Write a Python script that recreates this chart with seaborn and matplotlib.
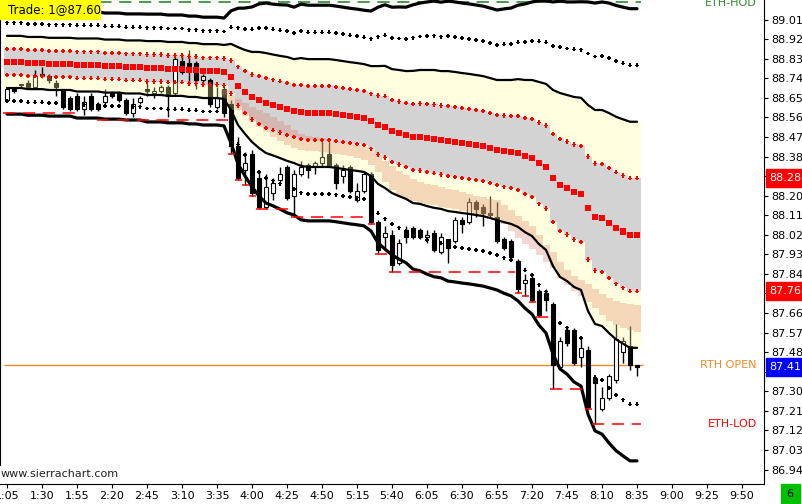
import matplotlib
matplotlib.use("Agg")
import matplotlib.pyplot as plt
import matplotlib.transforms as mtransforms
from matplotlib.patches import Rectangle
import numpy as np
import pandas as pd
import seaborn as sns

# ---- data (5 minute bars, 1:05 -> 8:35) ----
time_labels = ["1:05", "1:30", "1:55", "2:20", "2:45", "3:10", "3:35", "4:00",
               "4:25", "4:50", "5:15", "5:40", "6:05", "6:30", "6:55", "7:20",
               "7:45", "8:10", "8:35", "9:00", "9:25", "9:50"]

opens = [88.64, 88.69, 88.71, 88.72, 88.70, 88.76, 88.75, 88.72, 88.69, 88.65,
         88.66, 88.60, 88.66, 88.62, 88.63, 88.67, 88.67, 88.64, 88.58, 88.63,
         88.69, 88.67, 88.68, 88.70, 88.67, 88.82, 88.81, 88.81, 88.73, 88.73,
         88.61, 88.69, 88.62, 88.43, 88.32, 88.39, 88.28, 88.15, 88.21, 88.27,
         88.33, 88.20, 88.30, 88.34, 88.33, 88.35, 88.39, 88.34, 88.29, 88.33,
         88.18, 88.22, 88.30, 88.08, 88.01, 88.02, 87.89, 88.04, 88.05, 88.04,
         88.01, 88.03, 87.94, 88.00, 87.99, 88.09, 88.08, 88.17, 88.15, 88.12,
         88.10, 88.00, 87.99, 87.90, 87.80, 87.82, 87.76, 87.75, 87.70, 87.41,
         87.58, 87.58, 87.46, 87.49, 87.36, 87.22, 87.27, 87.35, 87.48, 87.51,
         87.42]
highs = [88.70, 88.69, 88.71, 88.73, 88.78, 88.79, 88.76, 88.73, 88.69, 88.66,
         88.67, 88.66, 88.67, 88.63, 88.69, 88.68, 88.68, 88.65, 88.65, 88.66,
         88.72, 88.70, 88.71, 88.71, 88.84, 88.85, 88.87, 88.82, 88.76, 88.74,
         88.70, 88.70, 88.64, 88.47, 88.40, 88.41, 88.31, 88.30, 88.28, 88.33,
         88.34, 88.32, 88.36, 88.35, 88.36, 88.45, 88.45, 88.35, 88.34, 88.34,
         88.26, 88.31, 88.31, 88.09, 88.06, 88.04, 88.00, 88.06, 88.06, 88.05,
         88.04, 88.04, 88.03, 88.00, 88.10, 88.10, 88.19, 88.18, 88.16, 88.20,
         88.17, 88.01, 88.00, 87.91, 87.84, 87.83, 87.77, 87.77, 87.71, 87.55,
         87.60, 87.59, 87.55, 87.51, 87.37, 87.32, 87.38, 87.61, 87.55, 87.60,
         87.42]
lows = [88.64, 88.67, 88.70, 88.69, 88.69, 88.74, 88.72, 88.66, 88.60, 88.59,
        88.59, 88.57, 88.59, 88.59, 88.62, 88.65, 88.63, 88.57, 88.56, 88.62,
        88.66, 88.65, 88.67, 88.56, 88.66, 88.76, 88.71, 88.69, 88.71, 88.61,
        88.60, 88.56, 88.39, 88.27, 88.25, 88.20, 88.14, 88.14, 88.18, 88.26,
        88.18, 88.10, 88.29, 88.28, 88.30, 88.33, 88.33, 88.23, 88.26, 88.21,
        88.17, 88.21, 88.07, 87.93, 87.96, 87.85, 87.88, 87.98, 88.00, 88.00,
        87.98, 87.94, 87.93, 87.89, 87.98, 88.03, 88.07, 88.10, 88.06, 88.10,
        87.98, 87.95, 87.91, 87.75, 87.74, 87.71, 87.64, 87.67, 87.31, 87.40,
        87.51, 87.42, 87.41, 87.22, 87.15, 87.21, 87.26, 87.34, 87.43, 87.40,
        87.37]
closes = [88.69, 88.68, 88.71, 88.70, 88.75, 88.75, 88.73, 88.70, 88.61, 88.60,
          88.60, 88.63, 88.60, 88.60, 88.66, 88.66, 88.64, 88.58, 88.62, 88.65,
          88.68, 88.68, 88.70, 88.66, 88.83, 88.77, 88.77, 88.73, 88.75, 88.62,
          88.65, 88.58, 88.43, 88.28, 88.35, 88.21, 88.15, 88.24, 88.26, 88.30,
          88.19, 88.30, 88.33, 88.32, 88.35, 88.38, 88.34, 88.26, 88.32, 88.22,
          88.22, 88.30, 88.08, 87.95, 88.03, 87.88, 87.98, 88.01, 88.01, 88.01,
          88.02, 87.95, 88.01, 87.96, 88.09, 88.07, 88.17, 88.14, 88.12, 88.11,
          87.99, 87.96, 87.92, 87.77, 87.81, 87.72, 87.65, 87.72, 87.42, 87.53,
          87.52, 87.43, 87.50, 87.23, 87.34, 87.27, 87.37, 87.54, 87.53, 87.42,
          87.41]

# session VWAP (red squares) and its standard deviation
vwap = [88.815, 88.815, 88.815, 88.810, 88.810, 88.810, 88.806, 88.806, 88.806, 88.806,
        88.801, 88.801, 88.801, 88.801, 88.796, 88.796, 88.796, 88.792, 88.792, 88.792,
        88.787, 88.787, 88.787, 88.783, 88.783, 88.783, 88.778, 88.778, 88.773, 88.773,
        88.773, 88.769, 88.746, 88.704, 88.677, 88.654, 88.640, 88.626, 88.617, 88.608,
        88.599, 88.589, 88.585, 88.580, 88.580, 88.580, 88.580, 88.576, 88.571, 88.566,
        88.562, 88.557, 88.543, 88.525, 88.516, 88.497, 88.488, 88.479, 88.470, 88.470,
        88.465, 88.461, 88.456, 88.451, 88.447, 88.442, 88.438, 88.433, 88.428, 88.419,
        88.410, 88.405, 88.401, 88.396, 88.382, 88.373, 88.350, 88.332, 88.281, 88.249,
        88.235, 88.217, 88.208, 88.143, 88.102, 88.097, 88.074, 88.051, 88.035, 88.020,
        88.020]
sigma = [0.120, 0.120, 0.120, 0.120, 0.120, 0.120, 0.120, 0.120, 0.120, 0.120,
         0.122, 0.122, 0.122, 0.122, 0.122, 0.122, 0.122, 0.122, 0.122, 0.122,
         0.124, 0.124, 0.124, 0.124, 0.124, 0.124, 0.124, 0.124, 0.124, 0.124,
         0.124, 0.124, 0.152, 0.179, 0.193, 0.207, 0.221, 0.230, 0.232, 0.235,
         0.239, 0.239, 0.248, 0.248, 0.248, 0.248, 0.248, 0.248, 0.248, 0.248,
         0.248, 0.248, 0.253, 0.271, 0.281, 0.285, 0.290, 0.294, 0.304, 0.308,
         0.313, 0.317, 0.317, 0.322, 0.322, 0.322, 0.322, 0.322, 0.322, 0.322,
         0.322, 0.327, 0.331, 0.340, 0.350, 0.359, 0.373, 0.382, 0.405, 0.423,
         0.428, 0.437, 0.442, 0.474, 0.492, 0.497, 0.506, 0.512, 0.516, 0.520,
         0.520]

# second band (peach), starts at bar 31
peach_start = 31
peach_top = [88.686, 88.663, 88.645, 88.626, 88.608, 88.594, 88.580, 88.562, 88.543, 88.525,
             88.502, 88.484, 88.474, 88.470, 88.465, 88.456, 88.451, 88.447, 88.442, 88.433,
             88.424, 88.410, 88.387, 88.359, 88.336, 88.313, 88.295, 88.277, 88.263, 88.254,
             88.249, 88.240, 88.231, 88.226, 88.217, 88.208, 88.198, 88.194, 88.185, 88.180,
             88.157, 88.134, 88.106, 88.083, 88.060, 88.019, 87.973, 87.941, 87.895, 87.858,
             87.830, 87.812, 87.794, 87.771, 87.748, 87.729, 87.715, 87.706, 87.702, 87.697]
peach_bot = [88.663, 88.622, 88.594, 88.566, 88.539, 88.516, 88.493, 88.470, 88.451, 88.433,
             88.419, 88.410, 88.405, 88.405, 88.401, 88.396, 88.392, 88.387, 88.382, 88.373,
             88.364, 88.341, 88.309, 88.263, 88.226, 88.198, 88.185, 88.175, 88.166, 88.162,
             88.157, 88.148, 88.143, 88.139, 88.129, 88.125, 88.116, 88.111, 88.106, 88.097,
             88.070, 88.037, 88.005, 87.978, 87.955, 87.927, 87.895, 87.867, 87.821, 87.789,
             87.761, 87.738, 87.711, 87.683, 87.651, 87.623, 87.605, 87.591, 87.582, 87.573]

# red lines at bar lows: (first bar, last bar, price)
low_levels = [(-0.6, 10.4, 88.58), (12.9, 31.5, 88.55), (31.5, 32.5, 88.39),
              (32.5, 33.5, 88.27), (33.5, 34.5, 88.25), (34.5, 35.5, 88.20),
              (35.5, 40.5, 88.14), (40.5, 51.5, 88.10), (51.5, 52.5, 88.07),
              (52.5, 54.5, 87.93), (54.5, 72.5, 87.85), (72.5, 73.5, 87.75),
              (73.5, 74.5, 87.74), (74.5, 75.5, 87.71), (75.5, 77.5, 87.64),
              (77.5, 82.5, 87.31), (82.5, 83.5, 87.22), (83.5, 90.5, 87.15)]

eth_hod = 89.09
eth_lod = 87.15
rth_open = 87.42
last_price = 87.41
band_marks = [88.28, 87.76]
trade_text = "Trade: 1@87.60"
yticks = [89.01, 88.92, 88.83, 88.74, 88.65, 88.56, 88.47, 88.38, 88.29, 88.20,
          88.11, 88.02, 87.93, 87.84, 87.75, 87.66, 87.57, 87.48, 87.39, 87.30,
          87.21, 87.12, 87.03, 86.94]
covered_ticks = [88.29, 87.75, 87.39]  # hidden under the price boxes

# ---- derived series ----
bars = np.arange(len(opens))
v = np.array(vwap)
s = np.array(sigma)
df = pd.DataFrame({
    "bar": bars, "vwap": v,
    "up05": v + 0.5 * s, "dn05": v - 0.5 * s,
    "up1": v + s, "dn1": v - s,
    "up15": v + 1.5 * s, "dn15": v - 1.5 * s,
    "up2": v + 2 * s, "dn2": v - 2 * s,
})


def stepped(x, y):
    xs = np.column_stack([x - 0.5, x + 0.5]).ravel()
    return xs, np.repeat(np.asarray(y), 2)


sns.set_theme(style="white")
plt.rcParams["font.family"] = ["DejaVu Sans"]

fig = plt.figure(figsize=(8.02, 5.04), dpi=100)
ax = fig.add_axes([0, 20 / 504, 764 / 802, 484 / 504])
ax.set_facecolor("white")

# bands
xs, lo = stepped(bars, df["dn05"])
_, hi = stepped(bars, df["up05"])
ax.fill_between(xs, lo, hi, color="#D3D3D3", lw=0, zorder=1)

# candles
o = np.array(opens); c = np.array(closes)
bottom = np.minimum(o, c)
height = np.maximum(np.abs(c - o), 0.003)
face = np.where(c >= o, "white", "black")
ax.vlines(bars, lows, highs, color="black", lw=1.0, zorder=3)
ax.bar(bars, height, bottom=bottom, width=0.7, color=face, edgecolor="black",
       linewidth=0.8, zorder=3.2)

yellow = (1.0, 1.0, 150 / 255)
_, a = stepped(bars, df["up1"])
ax.fill_between(xs, hi, a, color=yellow, alpha=0.3, lw=0, zorder=4)
_, b = stepped(bars, df["dn1"])
ax.fill_between(xs, b, lo, color=yellow, alpha=0.3, lw=0, zorder=4)

pb = bars[peach_start:]
pxs, ptop = stepped(pb, peach_top)
_, pbot = stepped(pb, peach_bot)
ax.fill_between(pxs, pbot, ptop, color=(220 / 255, 120 / 255, 100 / 255),
                alpha=0.3, lw=0, zorder=4.5)

# horizontal reference lines
ax.hlines(rth_open, -0.4, 90.9, colors="#F08A24", lw=1.0, zorder=2)
ax.hlines(eth_hod, -1, 90.5, colors="#1E7A1E", lw=1.1, linestyles=(0, (8, 5)), zorder=5)
for x0, x1, p in low_levels:
    ax.hlines(p, x0, x1, colors="red", lw=1.1, linestyles=(0, (8, 5)), zorder=6)

# VWAP band lines
sns.lineplot(data=df, x="bar", y="up2", color="black", lw=2.3, ax=ax, zorder=5)
sns.lineplot(data=df, x="bar", y="up1", color="black", lw=1.6, ax=ax, zorder=5)
sns.lineplot(data=df, x="bar", y="dn1", color="black", lw=1.6, ax=ax, zorder=5)
sns.lineplot(data=df, x="bar", y="dn2", color="black", lw=2.3, ax=ax, zorder=5)
for col in ["up15", "dn15"]:
    sns.scatterplot(data=df, x="bar", y=col, marker="P", s=8, color="black",
                    linewidth=0, edgecolor="none", legend=False, ax=ax, zorder=5)
for col in ["up05", "dn05"]:
    sns.scatterplot(data=df, x="bar", y=col, marker="P", s=9, color="red",
                    linewidth=0, edgecolor="none", legend=False, ax=ax, zorder=5)
sns.scatterplot(data=df, x="bar", y="vwap", marker="s", s=19, color="red",
                linewidth=0, edgecolor="none", legend=False, ax=ax, zorder=5)

# axes
ax.set_xlim(-1.0, 108.14)
ax.set_ylim(89.10 - 0.0046 * 484, 89.10)
ax.set_xlabel("")
ax.set_ylabel("")
ax.grid(False)
ax.yaxis.tick_right()
ax.set_yticks(yticks)
ax.set_yticklabels(["" if t in covered_ticks else f"{t:.2f}" for t in yticks])
ax.set_xticks(np.arange(0, 5 * len(time_labels), 5))
ax.set_xticklabels(time_labels)
ax.tick_params(axis="both", direction="out", length=3, width=0.8, color="black",
               labelsize=8, labelcolor="black", pad=2)
ax.tick_params(axis="y", left=False, right=True)
ax.tick_params(axis="x", bottom=True)
for side in ["right", "bottom", "left"]:
    ax.spines[side].set_color("black")
    ax.spines[side].set_linewidth(0.8)
ax.spines["top"].set_visible(False)
ax.spines["left"].set_bounds(86.96, 89.10)

blend = mtransforms.blended_transform_factory(ax.transAxes, ax.transData)
ax.text(757 / 764, 89.085, "ETH-HOD", transform=blend, ha="right", va="center",
        color="#2E8B2E", fontsize=8)
ax.text(757 / 764, rth_open, "RTH OPEN", transform=blend, ha="right", va="center",
        color="#F08A24", fontsize=8)
ax.text(757 / 764, eth_lod, "ETH-LOD", transform=blend, ha="right", va="center",
        color="red", fontsize=8)

# price boxes on the scale
box_h = 18 * 0.0046
for p, col in [(band_marks[0], "red"), (band_marks[1], "red"), (last_price, "blue")]:
    ax.add_patch(Rectangle((766 / 764, p - box_h / 2), 36 / 764, box_h, transform=blend,
                           color=col, clip_on=False, zorder=10))
    ax.text(769 / 764, p, f"{p:.2f}", transform=blend, ha="left", va="center",
            color="white", fontsize=8, clip_on=False, zorder=11)

fig.add_artist(Rectangle((0, 1 - 19 / 504), 100 / 802, 19 / 504, transform=fig.transFigure,
                         color="#FFFF00", zorder=10))
fig.text(8 / 802, 1 - 10 / 504, trade_text, ha="left", va="center", fontsize=8.5,
         color="black", zorder=11)
fig.add_artist(Rectangle((781 / 802, 1 / 504), 19 / 802, 19 / 504, transform=fig.transFigure,
                         color="#00C000", zorder=10))
fig.text(790 / 802, 10 / 504, "6", ha="center", va="center", fontsize=8, color="black",
         zorder=11)
fig.text(1 / 802, 1 - 474 / 504, "www.sierrachart.com", ha="left", va="center",
         fontsize=8, color="#202020")

fig.savefig("out.png", dpi=100)
